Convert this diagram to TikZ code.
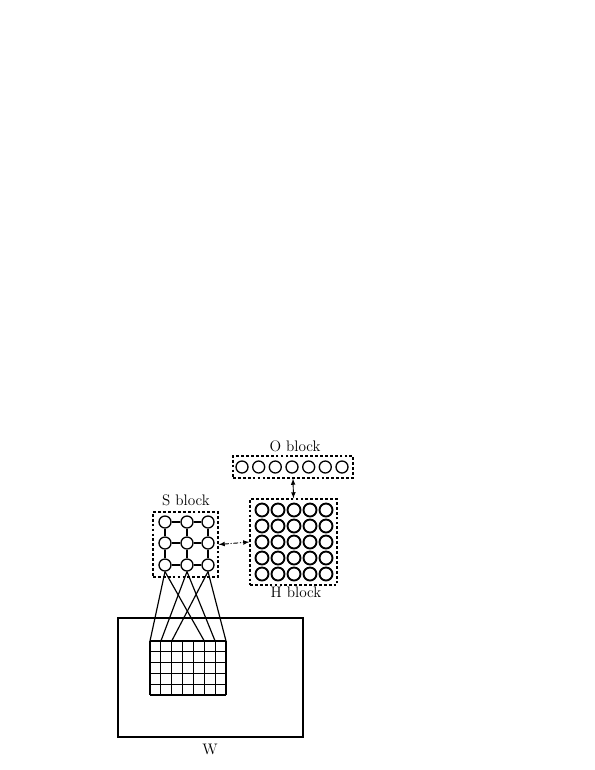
\documentclass[tikz,border=0pt]{standalone}
\usepackage{tikz}
\begin{document}
\begin{tikzpicture}[
        x=0.03cm, y=-0.03cm,
        >=latex,
        o_neuron/.style={circle, draw, line width=1.1pt, minimum size=12*0.03cm, inner sep=0pt},
        h_neuron/.style={circle, draw, line width=1.6pt, minimum size=13*0.03cm, inner sep=0pt},
        s_neuron/.style={circle, draw, line width=1.1pt, minimum size=12*0.03cm, inner sep=0pt},
        block box/.style={draw, dashed, line width=1.1pt, dash pattern=on 2.4pt off 1.8pt, inner sep=0pt},
        block label/.style={font=\fontsize{13}{15}\selectfont},
        link/.style={draw, line width=1pt},
        grid line/.style={draw, line width=0.9pt},
        dual arrow/.style={<->, line width=0.8pt}
    ]
	\useasboundingbox (0,0) rectangle (595,770);
	% O block
	\node[block box, minimum width=120*0.03cm, minimum height=22*0.03cm] (o_box) at (293,467) {};
	\node[o_neuron] (o_0) at (242,467) {};
	\node[o_neuron] (o_1) at (258.7,467) {};
	\node[o_neuron] (o_2) at (275.3,467) {};
	\node[o_neuron] (o_3) at (292,467) {};
	\node[o_neuron] (o_4) at (308.7,467) {};
	\node[o_neuron] (o_5) at (325.3,467) {};
	\node[o_neuron] (o_6) at (342,467) {};
	\node[block label] (o_label) at (295,446) {O block};
	% H block
	\node[block box, minimum width=87*0.03cm, minimum height=86*0.03cm] (h_box) at (293.5,542) {};
	\node[h_neuron] (h_0_0) at (262,510) {};
	\node[h_neuron] (h_0_1) at (278,510) {};
	\node[h_neuron] (h_0_2) at (294,510) {};
	\node[h_neuron] (h_0_3) at (310,510) {};
	\node[h_neuron] (h_0_4) at (326,510) {};
	\node[h_neuron] (h_1_0) at (262,526) {};
	\node[h_neuron] (h_1_1) at (278,526) {};
	\node[h_neuron] (h_1_2) at (294,526) {};
	\node[h_neuron] (h_1_3) at (310,526) {};
	\node[h_neuron] (h_1_4) at (326,526) {};
	\node[h_neuron] (h_2_0) at (262,542) {};
	\node[h_neuron] (h_2_1) at (278,542) {};
	\node[h_neuron] (h_2_2) at (294,542) {};
	\node[h_neuron] (h_2_3) at (310,542) {};
	\node[h_neuron] (h_2_4) at (326,542) {};
	\node[h_neuron] (h_3_0) at (262,558) {};
	\node[h_neuron] (h_3_1) at (278,558) {};
	\node[h_neuron] (h_3_2) at (294,558) {};
	\node[h_neuron] (h_3_3) at (310,558) {};
	\node[h_neuron] (h_3_4) at (326,558) {};
	\node[h_neuron] (h_4_0) at (262,574) {};
	\node[h_neuron] (h_4_1) at (278,574) {};
	\node[h_neuron] (h_4_2) at (294,574) {};
	\node[h_neuron] (h_4_3) at (310,574) {};
	\node[h_neuron] (h_4_4) at (326,574) {};
	\node[block label] (h_label) at (296,592) {H block};
	% S block
	\node[block box, minimum width=65*0.03cm, minimum height=65*0.03cm] (s_box) at (185.5,544.5) {};
	\node[s_neuron] (s_0_0) at (165,522) {};
	\node[s_neuron] (s_0_1) at (187,522) {};
	\node[s_neuron] (s_0_2) at (208,522) {};
	\node[s_neuron] (s_1_0) at (165,543) {};
	\node[s_neuron] (s_1_1) at (187,543) {};
	\node[s_neuron] (s_1_2) at (208,543) {};
	\node[s_neuron] (s_2_0) at (165,565) {};
	\node[s_neuron] (s_2_1) at (187,565) {};
	\node[s_neuron] (s_2_2) at (208,565) {};
	\node[block label] (s_label) at (186,500) {S block};
	\draw[link] (s_0_0) -- (s_0_1);
	\draw[link] (s_0_1) -- (s_0_2);
	\draw[link] (s_1_0) -- (s_1_1);
	\draw[link] (s_1_1) -- (s_1_2);
	\draw[link] (s_2_0) -- (s_2_1);
	\draw[link] (s_2_1) -- (s_2_2);
	\draw[link] (s_0_0) -- (s_1_0);
	\draw[link] (s_1_0) -- (s_2_0);
	\draw[link] (s_0_1) -- (s_1_1);
	\draw[link] (s_1_1) -- (s_2_1);
	\draw[link] (s_0_2) -- (s_1_2);
	\draw[link] (s_1_2) -- (s_2_2);
	% arrows between blocks
	\draw[dual arrow, dash pattern=on 4pt off 1.5pt on 1pt off 1.5pt] (s_box.east) -- (h_box.west);
	\draw[dual arrow] (h_box.north) -- (o_box.south);
	% W block
	\node[draw, line width=1.1pt, minimum width=185*0.03cm, minimum height=119*0.03cm, inner sep=0pt] (w_box) at (210.5,677.5) {};
	\node[block label] (w_label) at (210,749) {W};
	\draw[grid line] (150,641) -- (226,641);
	\draw[grid line] (150,651.8) -- (226,651.8);
	\draw[grid line] (150,662.6) -- (226,662.6);
	\draw[grid line] (150,673.4) -- (226,673.4);
	\draw[grid line] (150,684.2) -- (226,684.2);
	\draw[grid line] (150,695) -- (226,695);
	\draw[grid line] (150,641) -- (150,695);
	\draw[grid line] (160.9,641) -- (160.9,695);
	\draw[grid line] (171.7,641) -- (171.7,695);
	\draw[grid line] (182.6,641) -- (182.6,695);
	\draw[grid line] (193.4,641) -- (193.4,695);
	\draw[grid line] (204.3,641) -- (204.3,695);
	\draw[grid line] (215.1,641) -- (215.1,695);
	\draw[grid line] (226,641) -- (226,695);
	\coordinate (w_0) at (150,641);
	\coordinate (w_1) at (160.9,641);
	\coordinate (w_2) at (171.7,641);
	\coordinate (w_5) at (204.3,641);
	\coordinate (w_6) at (215.1,641);
	\coordinate (w_7) at (226,641);
	\draw[link] (s_2_0.south) -- (w_0);
	\draw[link] (s_2_0.south) -- (w_5);
	\draw[link] (s_2_1.south) -- (w_1);
	\draw[link] (s_2_1.south) -- (w_6);
	\draw[link] (s_2_2.south) -- (w_2);
	\draw[link] (s_2_2.south) -- (w_7);
    \end{tikzpicture}
\end{document}
